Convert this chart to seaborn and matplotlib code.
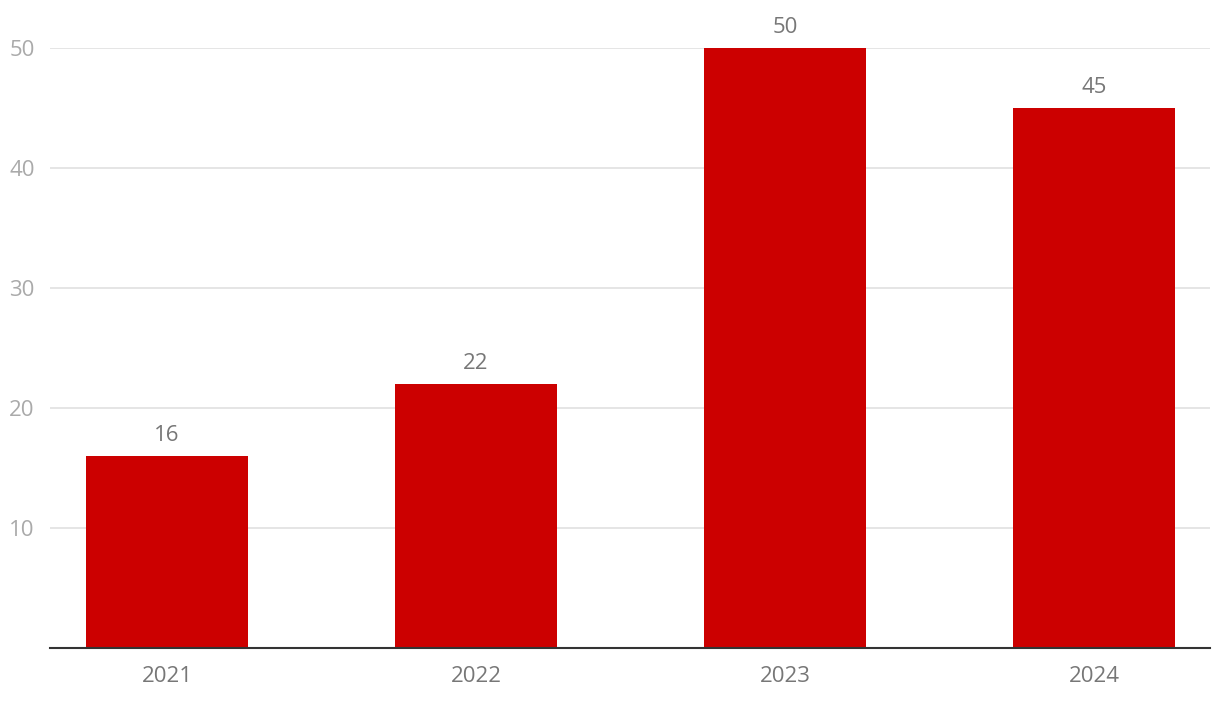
"""
Import packages
"""

import pandas as pd
import matplotlib.pyplot as plt
import seaborn as sns

"""
Data
"""
years = ['2021', '2022', '2023', '2024']
values = [16, 22, 50, 45]
y_ticks = [10, 20, 30, 40, 50]

BAR_COLOR = '#cc0000'

"""
Plot
"""


def main():
    sns.set_theme(style='white')
    plt.rcParams['font.family'] = ['Open Sans', 'DejaVu Sans']

    df = pd.DataFrame({'year': years, 'value': values})

    fig = plt.figure(figsize=(12.2, 7.02), dpi=100)
    ax = fig.add_axes([50 / 1220, 54 / 702, 1160 / 1220, 600 / 702])

    sns.barplot(data=df, x='year', y='value', color=BAR_COLOR, saturation=1,
                width=0.524, linewidth=0, ax=ax, zorder=3)

    ax.set_xlim(-0.379, 3.375)
    ax.set_ylim(0, 50)
    ax.set_yticks(y_ticks)
    ax.yaxis.grid(True, color='#e3e3e3', linewidth=1.3, zorder=0)
    ax.xaxis.grid(False)

    for side in ['top', 'right', 'left']:
        ax.spines[side].set_visible(False)
    ax.spines['bottom'].set_color('#333333')
    ax.spines['bottom'].set_linewidth(1.5)
    ax.spines['bottom'].set_zorder(4)

    ax.tick_params(axis='y', length=0, pad=11, labelsize=16, labelcolor='#aaaaaa')
    ax.tick_params(axis='x', length=0, pad=13, labelsize=16, labelcolor='#777777')
    ax.set_xlabel('')
    ax.set_ylabel('')

    for container in ax.containers:
        ax.bar_label(container, padding=7, fontsize=16, color='#777777', clip_on=False)

    fig.savefig('out.png', dpi=100)
    plt.close(fig)


if __name__ == '__main__':
    main()
